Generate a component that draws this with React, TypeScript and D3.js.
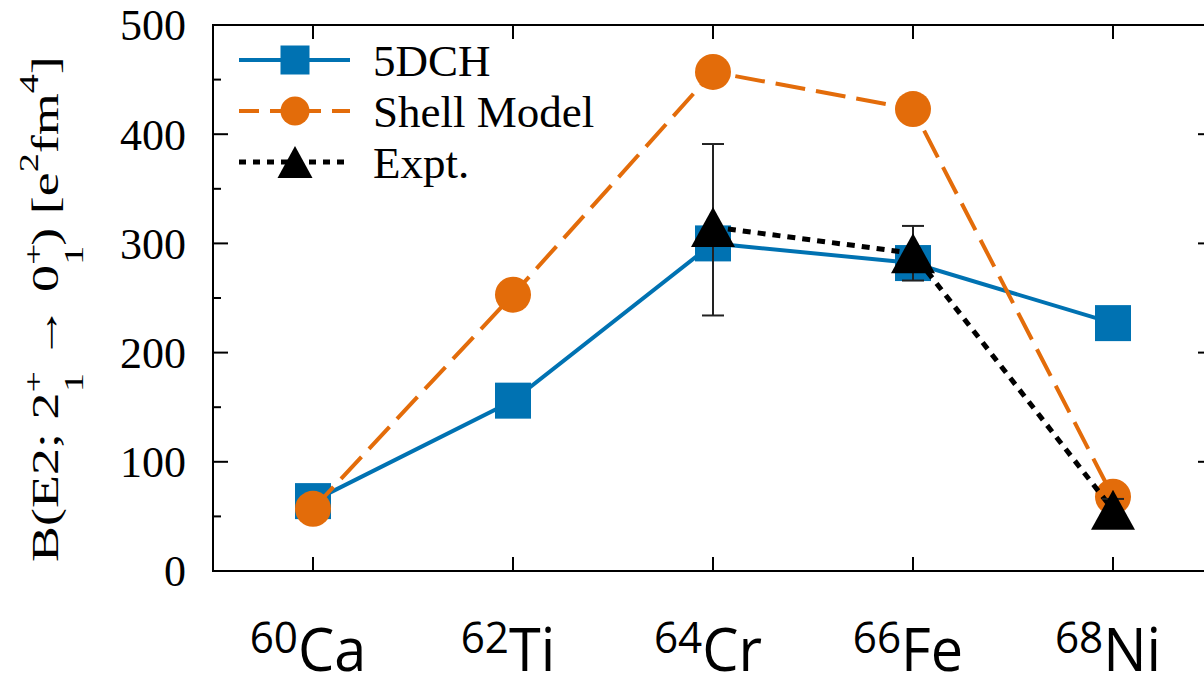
import React from 'react';
import * as d3 from 'd3';

const nuclei = ['Ca', 'Ti', 'Cr', 'Fe', 'Ni'];
const massNumbers = ['60', '62', '64', '66', '68'];
const dch5 = [64, 156, 300, 282, 227];
const shellModel = [57, 253, 457, 423, 68];
const exptIndex = [2, 3, 4];
const exptValues = [315, 291, 56];
const exptLow = [234, 266, 46];
const exptHigh = [391, 316, 66];
const yTicks = [0, 100, 200, 300, 400, 500];
const yMinorTicks = [50, 150, 250, 350, 450];
const legendLabels = ['5DCH', 'Shell Model', 'Expt.'];

const BLUE = '#0072b2';
const ORANGE = '#e36c0a';
const SERIF = '"Liberation Serif", "Times New Roman", serif';

function Square({ cx, cy, s, fill }: { cx: number; cy: number; s: number; fill: string }) {
  return <rect x={cx - s / 2} y={cy - s / 2} width={s} height={s} fill={fill} />;
}
function Tri({ cx, cy, w, h }: { cx: number; cy: number; w: number; h: number }) {
  return <path d={`M${cx},${cy - h / 2}L${cx - w / 2},${cy + h / 2}L${cx + w / 2},${cy + h / 2}Z`} fill="#000" />;
}

export default function App() {
  const W = 1204, H = 681;
  const left = 213, right = 1213, top = 25, bottom = 571;
  const x = d3.scaleLinear().domain([-0.5, 4.5]).range([left, right]);
  const y = d3.scaleLinear().domain([0, 500]).range([bottom, top]);
  const line = d3.line<[number, number]>().x(d => x(d[0])).y(d => y(d[1]));
  const dchPts: [number, number][] = dch5.map((v, i) => [i, v]);
  const smPts: [number, number][] = shellModel.map((v, i) => [i, v]);
  const exPts: [number, number][] = exptValues.map((v, k) => [exptIndex[k], v]);

  const legY = [60, 111, 162];
  const legX0 = 239, legX1 = 350, legM = 295, legT = 373;
  const sub = 38;

  return (
    <svg width={W} height={H} style={{ position: 'absolute', left: 0, top: 0, background: '#fff' }}>
      <rect x={0} y={0} width={W} height={H} fill="#fff" />
      {/* frame */}
      <rect x={left} y={top} width={right - left} height={bottom - top} fill="none" stroke="#000" strokeWidth={2} />
      {/* y ticks */}
      {yTicks.map(t => (
        <g key={'yt' + t}>
          <line x1={left} x2={left + 15} y1={y(t)} y2={y(t)} stroke="#000" strokeWidth={2} />
          <line x1={right} x2={right - 15} y1={y(t)} y2={y(t)} stroke="#000" strokeWidth={2} />
          <text x={186} y={y(t)} dy="0.35em" textAnchor="end" fontFamily={SERIF} fontSize={44} fill="#000">{t}</text>
        </g>
      ))}
      {yMinorTicks.map(t => (
        <g key={'ym' + t}>
          <line x1={left} x2={left + 8} y1={y(t)} y2={y(t)} stroke="#000" strokeWidth={2} />
          <line x1={right} x2={right - 8} y1={y(t)} y2={y(t)} stroke="#000" strokeWidth={2} />
        </g>
      ))}
      {/* x ticks */}
      {nuclei.map((n, i) => (
        <g key={'xt' + n}>
          <line x1={x(i)} x2={x(i)} y1={bottom} y2={bottom - 14} stroke="#000" strokeWidth={2} />
          <line x1={x(i)} x2={x(i)} y1={top} y2={top + 14} stroke="#000" strokeWidth={2} />
          <g transform={`translate(${x(i) - 5},671) scale(0.96,1)`}>
            <text x={0} y={0} textAnchor="middle" fontFamily='"Open Sans", "Noto Sans", sans-serif' fill="#000">
              <tspan fontSize={44} dy={-18}>{massNumbers[i]}</tspan>
              <tspan fontSize={60} dy={18}>{n}</tspan>
            </text>
          </g>
        </g>
      ))}
      {/* y label */}
      <g transform="translate(58,562) rotate(-90) scale(1,0.72)">
        <text x={0} y={0} fontFamily={SERIF} fontSize={54} fill="#000">
          <tspan>B(E2; 2</tspan>
          <tspan fontSize={sub} dy={-21}>+</tspan>
          <tspan fontSize={sub} dx={-21} dy={56}>1</tspan>
          <tspan dy={-35}> → 0</tspan>
          <tspan fontSize={sub} dy={-21}>+</tspan>
          <tspan fontSize={sub} dx={-21} dy={56}>1</tspan>
          <tspan dy={-35}>) [e</tspan>
          <tspan fontSize={sub} dy={-28}>2</tspan>
          <tspan dy={28}>fm</tspan>
          <tspan fontSize={sub} dy={-28}>4</tspan>
          <tspan dy={28}>]</tspan>
        </text>
      </g>
      {/* 5DCH */}
      <path d={line(dchPts) || ''} fill="none" stroke={BLUE} strokeWidth={4} />
      {dchPts.map((p, i) => <Square key={'s' + i} cx={x(p[0])} cy={y(p[1])} s={36} fill={BLUE} />)}
      {/* Shell model */}
      <path d={line(smPts) || ''} fill="none" stroke={ORANGE} strokeWidth={4} strokeDasharray="30 11" />
      {smPts.map((p, i) => <circle key={'c' + i} cx={x(p[0])} cy={y(p[1])} r={18} fill={ORANGE} />)}
      {/* Expt */}
      <path d={line(exPts) || ''} fill="none" stroke="#000" strokeWidth={5} strokeDasharray="8 7" />
      {exPts.map((p, k) => (
        <g key={'e' + k}>
          <line x1={x(p[0])} x2={x(p[0])} y1={y(exptLow[k])} y2={y(exptHigh[k])} stroke="#222" strokeWidth={2} />
          <line x1={x(p[0]) - 11} x2={x(p[0]) + 11} y1={y(exptLow[k])} y2={y(exptLow[k])} stroke="#222" strokeWidth={2} />
          <line x1={x(p[0]) - 11} x2={x(p[0]) + 11} y1={y(exptHigh[k])} y2={y(exptHigh[k])} stroke="#222" strokeWidth={2} />
          <Tri cx={x(p[0])} cy={y(p[1])} w={44} h={40} />
        </g>
      ))}
      {/* legend */}
      <g>
        <line x1={legX0} x2={legX1} y1={legY[0]} y2={legY[0]} stroke={BLUE} strokeWidth={4} />
        <Square cx={legM} cy={legY[0]} s={29} fill={BLUE} />
        <line x1={legX0} x2={legX1} y1={legY[1]} y2={legY[1]} stroke={ORANGE} strokeWidth={4} strokeDasharray="20 11" />
        <circle cx={legM} cy={legY[1]} r={14.5} fill={ORANGE} />
        <line x1={legX0} x2={legX1} y1={legY[2]} y2={legY[2]} stroke="#000" strokeWidth={5} strokeDasharray="7 7" />
        <Tri cx={legM} cy={legY[2]} w={35} h={32} />
        {legendLabels.map((l, i) => (
          <text key={l} x={legT} y={legY[i] + 16} fontFamily={SERIF} fontSize={45} fill="#000">{l}</text>
        ))}
      </g>
    </svg>
  );
}
